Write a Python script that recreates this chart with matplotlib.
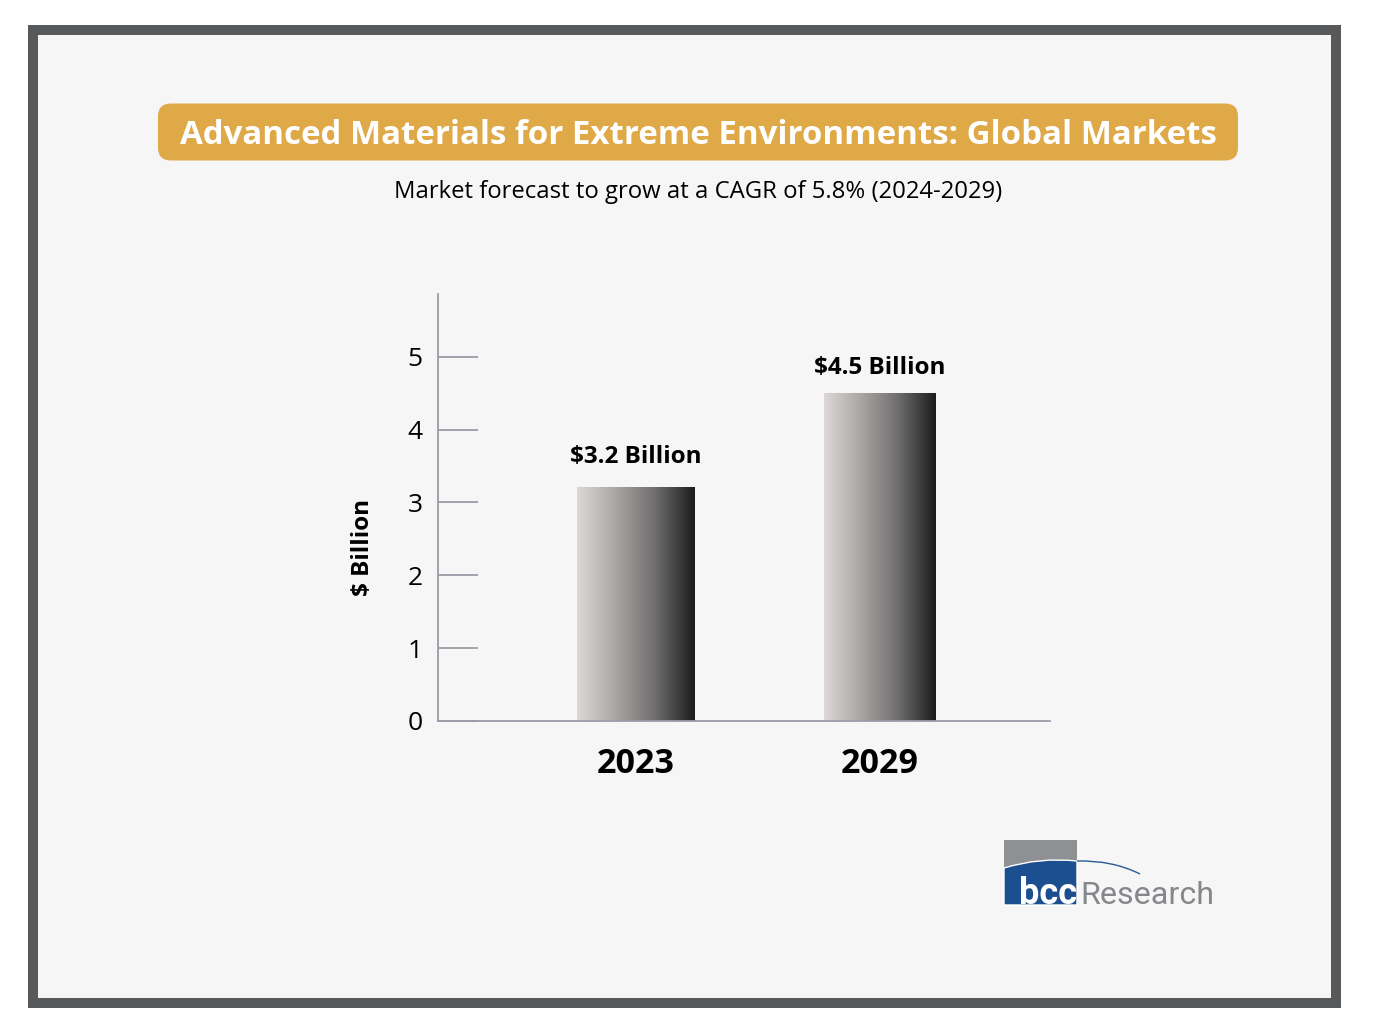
import matplotlib
matplotlib.use('Agg')
import matplotlib.pyplot as plt
import numpy as np
from matplotlib.colors import LinearSegmentedColormap
from matplotlib.patches import FancyBboxPatch, PathPatch, Rectangle
from matplotlib.path import Path

# Dados
anos = ['2023', '2029']
valores = [3.2, 4.5]
rotulos = ['$3.2 Billion', '$4.5 Billion']
marcas_y = [0, 1, 2, 3, 4, 5]

titulo = 'Advanced Materials for Extreme Environments: Global Markets'
subtitulo = 'Market forecast to grow at a CAGR of 5.8% (2024-2029)'
eixoy = '$ Billion'

# Ajustes de layout
larguras = (0.48, 0.455)
folgas = (0.46, 0.38)

W, H = 1379, 1034
plt.rcParams['font.family'] = ['Open Sans', 'DejaVu Sans']

fig = plt.figure(figsize=(W / 100, H / 100), dpi=100, facecolor='white')

# Camada de fundo em pixels (moldura, faixa do titulo, logo)
bg = fig.add_axes([0, 0, 1, 1], zorder=0)
bg.set_xlim(0, W)
bg.set_ylim(H, 0)
bg.axis('off')

bg.add_patch(Rectangle((33, 30), 1303, 973, facecolor='#f6f6f7', edgecolor='#58595b', linewidth=7.2))
bg.add_patch(FancyBboxPatch((158, 103.5), 1080, 57, boxstyle='round,pad=0,rounding_size=13',
                            facecolor='#e0a948', edgecolor='none'))
bg.text(698, 132, titulo, color='white', fontsize=23.8, fontweight='bold', ha='center', va='center_baseline')
bg.text(698, 189, subtitulo, color='black', fontsize=17.2, ha='center', va='center_baseline')

# Logo
bg.add_patch(Rectangle((1004, 840), 73, 29, facecolor='#8e9094', edgecolor='none'))
bg.add_patch(PathPatch(Path([(1004, 868), (1040, 857), (1077, 861), (1077, 905), (1004, 905), (1004, 868)],
                            [Path.MOVETO, Path.CURVE3, Path.CURVE3, Path.LINETO, Path.LINETO, Path.CLOSEPOLY]),
                       facecolor='#1c4f8f', edgecolor='white', linewidth=1))
bg.add_patch(PathPatch(Path([(1077, 861), (1112, 860), (1140, 874)], [Path.MOVETO, Path.CURVE3, Path.CURVE3]),
                       facecolor='none', edgecolor='#2a5a94', linewidth=1))
bg.text(1048, 904, 'bcc', color='white', fontsize=26, fontweight='bold', family='Roboto',
        ha='center', va='baseline')
bg.text(1080, 904, 'Research', color='#85878b', fontsize=23.2, family='Roboto',
        ha='left', va='baseline')

# Grafico
ax = fig.add_axes([438 / W, 1 - 721 / H, (1050 - 438) / W, (721 - 294) / H], zorder=1)
ax.patch.set_alpha(0)

cinza = LinearSegmentedColormap.from_list('barra', ['#dcd8d8', '#a8a6a4', '#6e6c6d', '#1c1c1c'])
gradiente = np.linspace(0, 1, 256).reshape(1, -1)

barras = ax.bar(range(len(anos)), valores, width=larguras, color='none', zorder=2)
for barra, rotulo, folga in zip(barras, rotulos, folgas):
    x0, larg, alt = barra.get_x(), barra.get_width(), barra.get_height()
    ax.imshow(gradiente, cmap=cinza, aspect='auto', extent=(x0, x0 + larg, 0, alt), zorder=2)
    ax.text(x0 + larg / 2, alt + folga, rotulo, fontsize=17.5, fontweight='bold', ha='center', va='center_baseline')
ax.set_xlim(-0.811, 1.697)
ax.set_ylim(0, 5.86)

ax.spines['top'].set_visible(False)
ax.spines['right'].set_visible(False)
ax.spines['left'].set_color('#9c9ca8')
ax.spines['bottom'].set_color('#9c9ca8')
ax.spines['left'].set_linewidth(1.3)
ax.spines['bottom'].set_linewidth(1.3)

ax.set_xticks(range(len(anos)), anos, fontsize=24.5, fontweight='bold')
ax.tick_params(axis='x', length=0, pad=18.5)
ax.set_yticks(marcas_y)
ax.tick_params(axis='y', direction='in', length=29, width=1.3, color='#9c9ca8', labelsize=19, pad=11)
ax.set_ylabel(eixoy, fontsize=17.5, fontweight='bold')
ax.yaxis.set_label_coords(-0.1035, 0.407)

fig.savefig('out.png', dpi=100)
